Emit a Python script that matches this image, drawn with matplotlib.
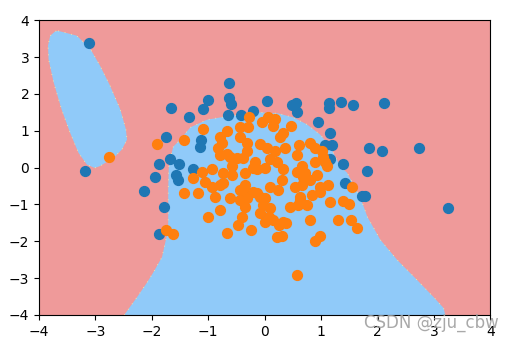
import matplotlib
matplotlib.use("Agg")
import matplotlib.pyplot as plt
import numpy as np

# Decision regions (blue class)
main_region_x = [-2.49, -2.26, -2.09, -1.98, -1.82, -1.74, -1.71, -1.71, -1.70, -1.68, -1.62, -1.50,
                 -1.32, -1.02, -0.79, -0.43, -0.08, 0.24, 0.51, 0.75, 0.98, 1.16, 1.34, 1.46,
                 1.69, 1.82, 2.05, 2.35, 2.70, 2.99, 3.17, 3.20]
main_region_y = [-4.00, -3.51, -3.13, -2.86, -2.43, -1.88, -1.50, -0.61, 0.00, 0.20, 0.57, 0.75,
                 1.09, 1.30, 1.36, 1.44, 1.50, 1.47, 1.36, 1.17, 0.90, 0.57, 0.03, -0.14,
                 -0.79, -1.34, -1.96, -2.51, -3.05, -3.51, -3.81, -4.00]

blob_x = [-3.66, -3.33, -3.09, -2.92, -2.74, -2.56, -2.46, -2.44, -2.53, -2.68, -2.92, -3.01,
          -3.15, -3.30, -3.45, -3.60, -3.74, -3.83, -3.84, -3.80, -3.71]
blob_y = [3.71, 3.58, 3.22, 2.77, 2.22, 1.58, 1.04, 0.76, 0.49, 0.26, 0.04, -0.01,
          0.08, 0.40, 0.95, 1.58, 2.31, 2.94, 3.31, 3.58, 3.70]

# Class 0 (blue points)
blue_x = [-3.11, -3.18, -0.63, -0.63, -0.59, -1.00, -1.09, -1.66, -1.34, -0.65, -0.42, -0.20,
          -1.75, -1.13, -1.14, -1.87, -1.68, -1.52, -1.27, -1.94, -2.14, -1.78, -1.87, -1.57,
          -1.53, 0.04, 0.49, 0.56, 0.58, 1.14, 1.14, 1.36, 1.57, 2.12, 0.95, 1.16, 1.07, 1.20,
          1.85, 2.08, 2.74, 1.16, 1.39, 1.82, 1.43, 1.73, 1.78, 3.24]
blue_y = [3.38, -0.08, 2.29, 1.88, 1.72, 1.83, 1.58, 1.63, 1.36, 1.42, 1.42, 1.53,
          0.84, 0.74, 0.57, 0.11, 0.22, 0.11, -0.05, -0.25, -0.63, -1.06, -1.80, -0.19,
          -0.35, 1.80, 1.69, 1.74, 1.50, 1.74, 1.63, 1.77, 1.69, 1.74, 1.23, 0.93, 0.60, 0.60,
          0.52, 0.44, 0.52, 0.22, 0.11, -0.08, -0.41, -0.76, -0.76, -1.09]

# Class 1 (orange points)
orange_x = [-2.76, -1.91, -1.43, -1.09, -0.66, -0.79, -0.27, -0.43, -0.29, -0.43, -0.31, -0.75,
            -0.82, -0.66, -0.31, -0.79, -0.61, -0.49, -0.17, -0.20, -0.35, -0.74, -0.58, -1.11,
            -0.93, -0.04, -0.08, 0.06, 0.19, 0.15, 0.47, 0.33, 0.27, 0.04, 0.19, 0.36, 0.61,
            0.81, 0.90, 1.02, 0.58, 0.10, 0.22, 0.33, 0.66, 0.72, 0.90, 1.04, 1.11, -0.38,
            -0.13, 0.01, 0.31, 0.10, 0.24, 0.58, 0.68, 0.81, 0.93, 1.07, 0.66, 0.54, 0.98,
            0.98, 1.13, -0.35, -0.38, -0.20, -0.31, -0.08, 0.01, -0.03, 0.10, -0.08, -0.35,
            0.45, 0.59, 0.75, 0.63, 0.84, 1.16, 1.29, 0.81, 0.33, 0.15, 0.01, -0.40, -1.27,
            -1.05, -0.79, -0.93, -1.18, -1.43, -0.88, -0.61, -0.43, -0.43, -0.79, -1.00, -0.58,
            -0.74, -0.47, -0.66, -0.24, -1.75, -1.62, 0.08, 0.26, 0.38, 0.22, 0.31, 0.90,
            0.98, 1.53, 1.64, 0.58, 1.55, 1.39, 1.50, -0.13, 0.63]
orange_y = [0.30, 0.63, 0.74, 1.04, 0.98, 0.84, 1.36, 1.09, 1.09, 0.82, 0.68, 0.68,
            0.54, 0.38, 0.44, 0.35, 0.30, 0.25, 0.14, 0.00, -0.14, -0.14, 0.03, -0.11,
            -0.03, 1.23, 0.63, 1.36, 1.31, 1.12, 1.14, 0.95, 0.82, 0.54, 0.44, 0.54, 0.60,
            0.68, 0.54, 0.44, 0.33, 0.22, 0.14, -0.05, 0.03, -0.14, 0.14, 0.30, 0.03, 0.27,
            -0.05, 0.00, -0.33, -0.52, -0.60, -0.11, -0.25, -0.33, -0.19, 0.14, -0.46, -0.52, -0.52,
            -0.65, -0.46, -0.46, -0.60, -0.65, -0.82, -0.79, -0.82, -1.01, -1.09, -1.23, -1.06,
            -1.06, -1.01, -1.01, -0.79, -0.74, -0.93, -1.42, -1.42, -1.47, -1.42, -1.47, -1.34, -0.27,
            -0.38, -0.46, -0.54, -0.68, -0.68, -0.79, -0.82, -0.60, -0.87, -1.14, -1.34, -0.19,
            -0.41, -1.55, -1.77, -1.69, -1.69, -1.80, -1.34, -1.55, -1.50, -1.88, -1.85, -1.99,
            -1.85, -1.42, -1.63, -2.92, -0.52, -0.90, -0.98, -0.68, -0.87]

ticks = [-4, -3, -2, -1, 0, 1, 2, 3, 4]

fig = plt.figure(figsize=(5.13, 3.42), dpi=100)
ax = fig.add_axes([0.076, 0.079, 0.880, 0.862])
ax.set_facecolor('#EF9A9A')
ax.fill(main_region_x, main_region_y, color='#90CAF9', lw=0)
ax.fill(blob_x, blob_y, color='#90CAF9', lw=0)
ax.plot(blob_x + blob_x[:1], blob_y + blob_y[:1], color='#FFF59D', lw=0.6, ls=(0, (1, 7)))
ax.plot(main_region_x, main_region_y, color='#FFF59D', lw=0.6, ls=(0, (1, 7)))

ax.scatter(blue_x, blue_y, s=50, color='#1f77b4', zorder=3)
ax.scatter(orange_x, orange_y, s=50, color='#ff7f0e', zorder=3)

ax.set_xlim(-4, 4)
ax.set_ylim(-4, 4)
ax.set_xticks(ticks)
ax.set_yticks(ticks)
ax.tick_params(labelsize=10)

fig.text(0.84, 0.057, 'CSDN @zju_cbw', fontsize=12, color='#a0a0a0',
         ha='center', va='center', alpha=0.9)

fig.savefig('out.png', dpi=100)
